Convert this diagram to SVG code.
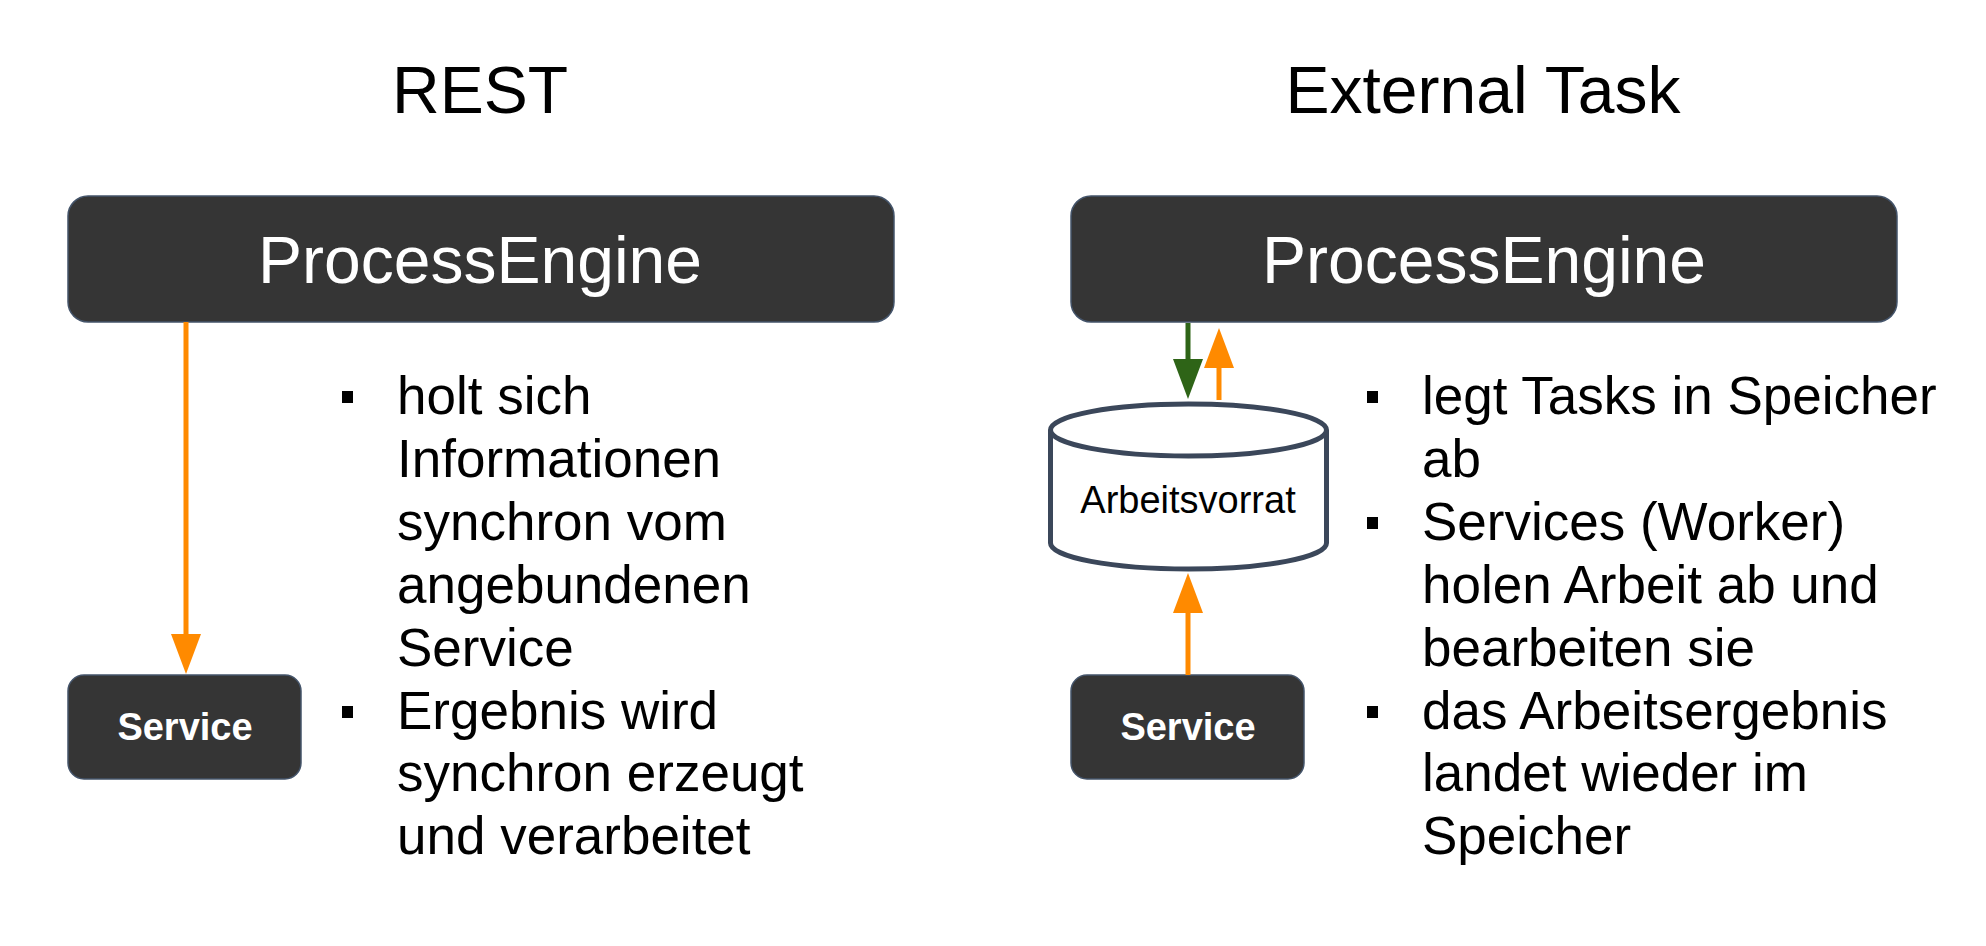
<svg xmlns="http://www.w3.org/2000/svg" width="1986" height="946" viewBox="0 0 1986 946">
<style>
.title{font-family:"Liberation Sans",Arial,sans-serif;font-size:66px;fill:#000;text-anchor:middle}
.box{fill:#353535;stroke:#44546a;stroke-width:1.5}
.pe{font-family:"Liberation Sans",Arial,sans-serif;font-size:66px;fill:#fff;text-anchor:middle}
.svc{font-family:"Liberation Sans",Arial,sans-serif;font-size:38px;font-weight:bold;fill:#fff;text-anchor:middle}
.bul{font-family:"Liberation Sans",Arial,sans-serif;font-size:53px;fill:#000}
.cyl{fill:#fff;stroke:#3b475a;stroke-width:5}
.cyltxt{font-family:"Liberation Sans",Arial,sans-serif;font-size:38px;fill:#000;text-anchor:middle}
.or{stroke:#ff8a00;stroke-width:5;fill:none}
.gr{stroke:#2e6417;stroke-width:5;fill:none}
</style>
<defs>
<marker id="hOr" markerUnits="userSpaceOnUse" markerWidth="40" markerHeight="30" refX="0" refY="15" orient="auto"><path d="M0,0 L40,15 L0,30 Z" fill="#ff8a00"/></marker>
<marker id="hGr" markerUnits="userSpaceOnUse" markerWidth="40" markerHeight="30" refX="0" refY="15" orient="auto"><path d="M0,0 L40,15 L0,30 Z" fill="#2e6417"/></marker>
</defs>
<rect width="1986" height="946" fill="#fff"/>
<text class="title" x="480" y="113">REST</text>
<text class="title" x="1483" y="113">External Task</text>

<g id="pe-left"><rect class="box" x="68" y="196" width="826" height="126" rx="20"/><text class="pe" x="480" y="283">ProcessEngine</text></g>
<g id="pe-right"><rect class="box" x="1071" y="196" width="826" height="126" rx="20"/><text class="pe" x="1484" y="283">ProcessEngine</text></g>
<g id="svc-left"><rect class="box" x="68" y="675" width="233" height="104" rx="16"/><text class="svc" x="185" y="740">Service</text></g>
<g id="svc-right"><rect class="box" x="1071" y="675" width="233" height="104" rx="16"/><text class="svc" x="1188" y="740">Service</text></g>
<g id="store">
<path class="cyl" d="M1050.5,430 L1050.5,543 A138,26 0 0 0 1326.5,543 L1326.5,430"/>
<ellipse class="cyl" cx="1188.5" cy="430" rx="138" ry="26"/>
<text class="cyltxt" x="1188" y="513">Arbeitsvorrat</text>
</g>

<g id="connectors">
<line class="or" x1="186" y1="322" x2="186" y2="634" marker-end="url(#hOr)"/>
<line class="gr" x1="1188" y1="323" x2="1188" y2="359" marker-end="url(#hGr)"/>
<line class="or" x1="1219" y1="400" x2="1219" y2="368" marker-end="url(#hOr)"/>
<line class="or" x1="1188" y1="675" x2="1188" y2="613" marker-end="url(#hOr)"/>
</g>

<g id="bullets-left">
<rect x="342" y="391" width="11" height="12"/>
<rect x="342" y="706" width="11" height="12"/>
<text class="bul" x="397" y="414">holt sich</text>
<text class="bul" x="397" y="477">Informationen</text>
<text class="bul" x="397" y="540">synchron vom</text>
<text class="bul" x="397" y="603">angebundenen</text>
<text class="bul" x="397" y="666">Service</text>
<text class="bul" x="397" y="729">Ergebnis wird</text>
<text class="bul" x="397" y="791">synchron erzeugt</text>
<text class="bul" x="397" y="854">und verarbeitet</text>
</g>
<g id="bullets-right">
<rect x="1367" y="391" width="11" height="12"/>
<rect x="1367" y="517" width="11" height="12"/>
<rect x="1367" y="706" width="11" height="12"/>
<text class="bul" x="1422" y="414">legt Tasks in Speicher</text>
<text class="bul" x="1422" y="477">ab</text>
<text class="bul" x="1422" y="540">Services (Worker)</text>
<text class="bul" x="1422" y="603">holen Arbeit ab und</text>
<text class="bul" x="1422" y="666">bearbeiten sie</text>
<text class="bul" x="1422" y="729">das Arbeitsergebnis</text>
<text class="bul" x="1422" y="791">landet wieder im</text>
<text class="bul" x="1422" y="854">Speicher</text>
</g>
</svg>
